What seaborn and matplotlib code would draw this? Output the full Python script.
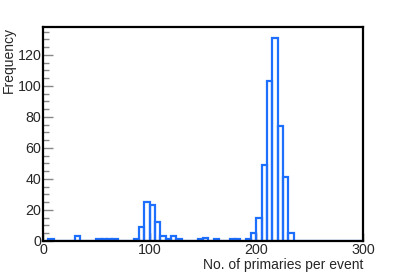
import numpy as np
import pandas as pd
import matplotlib
matplotlib.use("Agg")
import matplotlib.pyplot as plt
import seaborn as sns
from matplotlib.ticker import MultipleLocator

# histogram of number of primaries per event, 5-wide bins from 0 to 300
bin_edges = list(range(0, 305, 5))
bin_low = [5, 30, 50, 55, 60, 65, 85, 90, 95, 100, 105, 110, 115, 120, 125,
           145, 150, 160, 175, 180, 190, 195, 200, 205, 210, 215, 220, 225, 230]
counts = [1, 3, 1, 1, 1, 1, 1, 9, 25, 23, 12, 3, 1, 3, 1,
          1, 2, 1, 1, 1, 1, 5, 15, 49, 103, 131, 74, 41, 5]

df = pd.DataFrame({"primaries": [b + 2.5 for b in bin_low], "count": counts})

sns.set_style("white")
plt.rcParams['font.family'] = ['Liberation Sans', 'DejaVu Sans']

fig = plt.figure(figsize=(4.03, 2.75), dpi=100)
ax = fig.add_axes([43/403, 1 - 241/275, 320/403, 214/275])

sns.histplot(data=df, x="primaries", weights="count", bins=bin_edges,
             element="bars", fill=False, color="#1f6fff", linewidth=1.6, ax=ax)

ax.set_xlim(0, 300)
ax.set_ylim(0, 138)
ax.xaxis.set_major_locator(MultipleLocator(100))
ax.yaxis.set_major_locator(MultipleLocator(20))
ax.yaxis.set_minor_locator(MultipleLocator(5))

ax.tick_params(axis='y', which='major', direction='in', length=7, width=1,
               color='#888888', labelsize=10.3, pad=1, left=True)
ax.tick_params(axis='y', which='minor', direction='in', length=4, width=1,
               color='#888888', left=True)
ax.tick_params(axis='x', which='major', direction='in', length=6, width=1,
               color='#555555', labelsize=10.3, pad=1.5, bottom=True)

for s in ax.spines.values():
    s.set_color('black')
    s.set_linewidth(1.6)

ax.set_xlabel("")
ax.set_ylabel("")
fig.text(363/403, 1 - 265/275, "No. of primaries per event", fontsize=10,
         ha='right', va='center')
fig.text(9/403, 1 - 27/275, "Frequency", fontsize=10, rotation=90,
         ha='center', va='top')

fig.savefig("out.png", dpi=100)
